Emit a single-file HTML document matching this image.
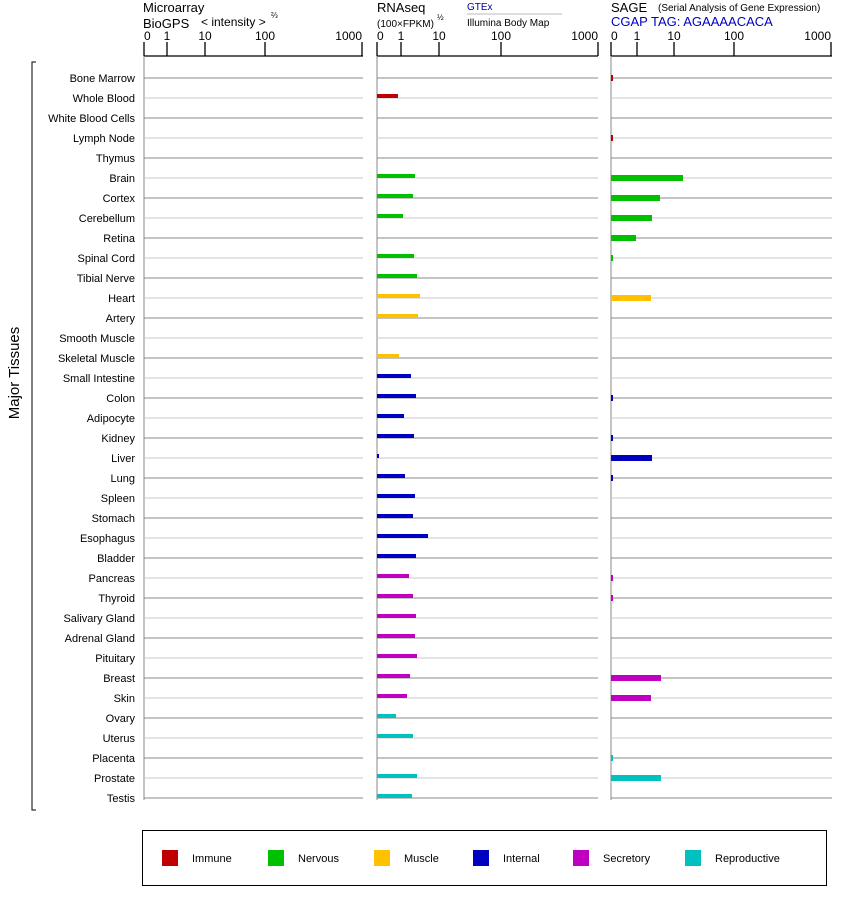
<!DOCTYPE html>
<html><head><meta charset="utf-8"><style>
body{margin:0;background:#fff;}
svg{display:block;font-family:"Liberation Sans",Arial,sans-serif;}
</style></head><body>
<svg width="842" height="900" xmlns="http://www.w3.org/2000/svg">
<g font-size="13" fill="#000">
<text x="143" y="12">Microarray</text>
<text x="143" y="28">BioGPS</text>
<text x="201" y="26" font-size="12">&lt; intensity &gt;</text>
<text x="271" y="18" font-size="8">⅔</text>
<text x="377" y="12">RNAseq</text>
<text x="377" y="27" font-size="10">(100×FPKM)</text>
<text x="437" y="20" font-size="8">½</text>
<text x="467" y="10" font-size="10" fill="#0000a0">GTEx</text>
<line x1="467" y1="14" x2="562" y2="14" stroke="#bbb"/>
<text x="467" y="26" font-size="10">Illumina Body Map</text>
<text x="611" y="12">SAGE</text>
<text x="658" y="11" font-size="10">(Serial Analysis of Gene Expression)</text>
<text x="611" y="26" fill="#0000c0">CGAP TAG: AGAAAACACA</text>
</g>
<g id="axes" stroke="#000" stroke-width="1.3" fill="none"></g>
<g id="grid"></g>
<g id="labels" font-size="11" text-anchor="end"></g>
<g id="bars"></g>
<text transform="translate(19,373) rotate(-90)" font-size="15" text-anchor="middle">Major Tissues</text>
<path d="M36 62 H32 V810 H36" stroke="#000" fill="none"/>
<rect x="142.5" y="830.5" width="684" height="55" fill="none" stroke="#000"/>
<g font-size="11">
<rect x="162" y="850" width="16" height="16" fill="#c00000"/><text x="192" y="862">Immune</text>
<rect x="268" y="850" width="16" height="16" fill="#00c000"/><text x="298" y="862">Nervous</text>
<rect x="374" y="850" width="16" height="16" fill="#ffc000"/><text x="404" y="862">Muscle</text>
<rect x="473" y="850" width="16" height="16" fill="#0000c0"/><text x="503" y="862">Internal</text>
<rect x="573" y="850" width="16" height="16" fill="#c000c0"/><text x="603" y="862">Secretory</text>
<rect x="685" y="850" width="16" height="16" fill="#00c0c0"/><text x="715" y="862">Reproductive</text>
</g>
<script>
var NS="http://www.w3.org/2000/svg";
function el(p,t,a,txt){var e=document.createElementNS(NS,t);for(var k in a)e.setAttribute(k,a[k]);if(txt)e.textContent=txt;document.getElementById(p).appendChild(e);}
var panels=[[144,363,[144,167,205,265,362]],[377,598,[377,401,439,501,598]],[611,832,[611,637,674,734,831]]];
var tl=["0","1","10","100","1000"];
panels.forEach(function(p){
 el("axes","line",{x1:p[0],y1:56,x2:p[1],y2:56});
 p[2].forEach(function(x,i){el("axes","line",{x1:x,y1:42,x2:x,y2:56});
  el("labels","text",{x:x,y:40,"text-anchor":i==0?"start":(i==4?"end":"middle"),"font-size":"12",stroke:"none"},tl[i]);});
 el("grid","line",{x1:p[0],y1:56,x2:p[0],y2:800,stroke:"#888","stroke-width":1});
});
var names=["Bone Marrow","Whole Blood","White Blood Cells","Lymph Node","Thymus","Brain","Cortex","Cerebellum","Retina","Spinal Cord","Tibial Nerve","Heart","Artery","Smooth Muscle","Skeletal Muscle","Small Intestine","Colon","Adipocyte","Kidney","Liver","Lung","Spleen","Stomach","Esophagus","Bladder","Pancreas","Thyroid","Salivary Gland","Adrenal Gland","Pituitary","Breast","Skin","Ovary","Uterus","Placenta","Prostate","Testis"];
var cat=[0,0,0,0,0,1,1,1,1,1,1,2,2,2,2,3,3,3,3,3,3,3,3,3,3,4,4,4,4,4,4,4,5,5,5,5,5];
var cols=["#c00000","#00c000","#ffc000","#0000c0","#c000c0","#00c0c0"];
var rna=[0,398,0,0,0,415,413,403,0,414,417,420,418,0,399,411,416,404,414,379,405,415,413,428,416,409,413,416,415,417,410,407,396,413,0,417,412];
var sage=[613,0,0,613,0,683,660,652,636,613,0,651,0,0,612,0,613,0,613,652,613,0,0,0,0,613,613,0,0,0,661,651,0,0,613,661,0];
names.forEach(function(n,i){
 var y=78+20*i, c=(i%2==0)?"#888":"#c8c8c8";
 el("labels","text",{x:135,y:y+4},n);
 panels.forEach(function(p){el("grid","line",{x1:p[0],y1:y,x2:p[1],y2:y,stroke:c,"stroke-width":1});});
 if(rna[i])el("bars","rect",{x:377,y:y-4,width:rna[i]-377,height:4,fill:cols[cat[i]]});
 if(sage[i])el("bars","rect",{x:611,y:y-3,width:sage[i]-611,height:6,fill:cols[cat[i]]});
});
</script>
</svg>
</body></html>
